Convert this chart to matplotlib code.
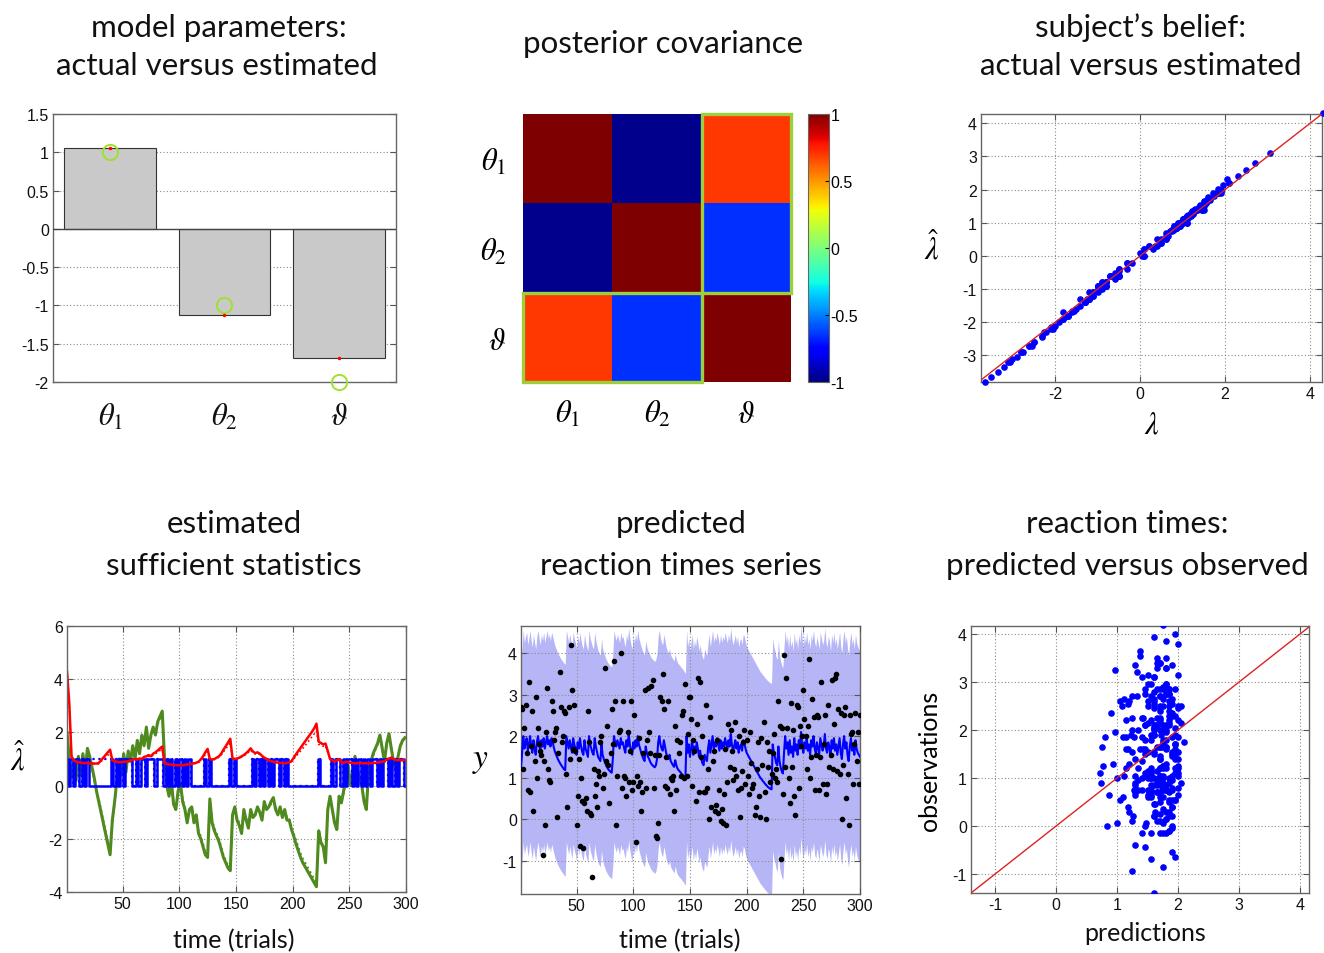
import numpy as np
import matplotlib
matplotlib.use('Agg')
import matplotlib.pyplot as plt
from matplotlib.patches import Rectangle

# figure size in pixels
W, H = 1324, 954

plt.rcParams['axes.unicode_minus'] = False
plt.rcParams['mathtext.fontset'] = 'stix'
plt.rcParams['font.family'] = ['Liberation Sans', 'DejaVu Sans']

# ---------------- data ----------------
# model parameters: actual vs estimated
param_names = [r'$\theta_1$', r'$\theta_2$', r'$\vartheta$']
param_estimated = [1.05, -1.13, -1.69]
param_actual = [1.0, -1.0, -2.0]

# posterior correlation matrix
post_corr = [[1.0, -0.97, 0.70],
             [-0.97, 1.0, -0.65],
             [0.70, -0.65, 1.0]]

# estimated sufficient statistics, every second trial (1, 3, ..., 299)
green_hat = [2.0, 1.0, 0.3, 0.9, 0.2, 1.1, 0.4, 1.2, 0.5, 1.4,
             1.1, 0.7, 0.3, -0.2, -0.6, -1.0, -1.4, -1.8, -2.2, -2.6,
             -1.3, -0.6, 0.2, 1.0, 0.4, 1.2, 0.5, 1.3, 0.9, 1.5,
             1.0, 1.7, 1.2, 1.9, 1.5, 2.2, 1.4, 1.9, 2.2, 1.9,
             2.4, 2.6, 2.8, 1.0, 0.0, -0.4, 0.2, -0.7, -0.9, -0.2,
             0.1, -0.6, -0.9, -1.4, -0.9, -0.8, -1.4, -1.1, -1.8, -2.0,
             -2.3, -2.6, -2.7, -0.5, -1.4, -1.7, -1.9, -2.1, -2.4, -2.7,
             -2.9, -3.1, -3.2, -1.1, -0.8, -1.3, -1.5, -1.8, -0.9, -1.3,
             -1.6, -0.9, -1.2, -1.1, -0.8, -1.0, -1.3, -0.6, -0.9, -0.8,
             -0.6, -0.45, -0.9, -1.1, -0.8, -1.2, -0.9, -1.3, -1.3, -1.65,
             -1.9, -2.2, -2.45, -2.7, -2.9, -3.05, -3.2, -3.35, -3.5, -3.65,
             -3.8, -1.7, -2.15, -2.3, -2.9, -0.9, -0.4, -0.9, -1.4, -1.65,
             -0.4, -0.65, -0.2, 0.3, 0.75, 0.0, 0.5, 1.1, 0.6, 0.3,
             0.0, -0.6, -0.9, 0.5, 0.9, 1.2, 1.4, 1.6, 1.9, 1.4,
             0.9, 1.6, 1.95, 1.4, 0.9, 0.6, 1.1, 1.5, 1.7, 1.8]
green_true = [1.9, 0.9, 0.4, 0.8, 0.3, 1.0, 0.5, 1.1, 0.6, 1.3,
              1.0, 0.6, 0.2, -0.2, -0.5, -0.9, -1.3, -1.7, -2.1, -2.5,
              -1.4, -0.7, 0.1, 0.9, 0.5, 1.1, 0.6, 1.2, 0.9, 1.4,
              1.1, 1.6, 1.2, 1.8, 1.5, 2.1, 1.5, 1.8, 2.1, 1.9,
              2.3, 2.5, 2.7, 1.1, 0.1, -0.3, 0.1, -0.6, -0.8, -0.3,
              0.0, -0.5, -0.8, -1.3, -1.0, -0.8, -1.3, -1.1, -1.7, -1.9,
              -2.2, -2.5, -2.6, -0.6, -1.3, -1.6, -1.8, -2.0, -2.3, -2.6,
              -2.8, -3.0, -3.1, -1.2, -0.9, -1.2, -1.4, -1.7, -1.0, -1.2,
              -1.5, -1.0, -1.1, -1.1, -0.9, -1.0, -1.2, -0.7, -0.9, -0.8,
              -0.7, -0.5, -0.8, -1.0, -0.8, -1.1, -0.9, -1.2, -1.25, -1.55,
              -1.8, -2.05, -2.3, -2.55, -2.75, -2.9, -3.05, -3.2, -3.35, -3.5,
              -3.65, -1.8, -2.1, -2.25, -2.8, -1.0, -0.5, -0.9, -1.3, -1.6,
              -0.5, -0.6, -0.3, 0.2, 0.7, 0.1, 0.5, 1.0, 0.6, 0.35,
              0.05, -0.5, -0.8, 0.4, 0.8, 1.1, 1.35, 1.55, 1.85, 1.45,
              0.95, 1.55, 1.9, 1.45, 0.95, 0.65, 1.05, 1.45, 1.65, 1.75]
red_hat = [4.3, 3.1, 1.1, 0.95, 0.9, 0.88, 0.86, 0.85, 0.85, 0.85,
           0.84, 0.84, 0.83, 0.83, 0.85, 0.95, 1.05, 1.15, 1.25, 1.35,
           0.95, 0.92, 0.9, 0.88, 0.88, 0.9, 0.9, 0.92, 0.95, 0.98,
           1.0, 0.98, 1.02, 1.0, 1.08, 1.1, 1.15, 1.1, 1.2, 1.25,
           1.32, 1.4, 1.47, 0.85, 0.82, 0.8, 0.78, 0.78, 0.77, 0.77,
           0.77, 0.76, 0.78, 0.8, 0.8, 0.82, 0.84, 0.86, 0.9, 0.98,
           1.1, 1.25, 1.38, 1.0, 0.98, 1.0, 1.05, 1.1, 1.2, 1.35,
           1.48, 1.62, 1.76, 1.02, 1.0, 1.02, 1.05, 1.1, 1.15, 1.22,
           1.3, 1.4, 1.28, 1.22, 1.25, 1.2, 1.12, 1.05, 1.0, 0.95,
           0.92, 0.9, 0.88, 0.86, 0.85, 0.85, 0.84, 0.85, 0.87, 0.92,
           1.05, 1.18, 1.3, 1.42, 1.54, 1.66, 1.78, 1.9, 2.02, 2.15,
           2.33, 1.65, 1.6, 1.55, 1.58, 1.3, 1.0, 0.95, 0.9, 0.95,
           1.0, 0.88, 0.86, 0.9, 0.88, 0.86, 0.85, 0.84, 0.84, 0.85,
           0.85, 0.84, 0.85, 0.83, 0.84, 0.86, 0.85, 0.87, 0.88, 0.9,
           0.92, 0.98, 1.02, 1.05, 1.0, 0.97, 0.95, 0.96, 0.95, 0.95]
red_true = [4.3, 3.05, 1.05, 0.92, 0.88, 0.86, 0.85, 0.84, 0.83, 0.83,
            0.82, 0.82, 0.81, 0.8, 0.82, 0.9, 0.98, 1.06, 1.14, 1.22,
            0.93, 0.9, 0.88, 0.87, 0.87, 0.88, 0.89, 0.9, 0.93, 0.96,
            0.98, 0.97, 1.0, 0.99, 1.05, 1.07, 1.1, 1.08, 1.15, 1.2,
            1.25, 1.32, 1.38, 0.83, 0.8, 0.79, 0.77, 0.77, 0.76, 0.76,
            0.76, 0.75, 0.77, 0.78, 0.79, 0.8, 0.82, 0.84, 0.87, 0.94,
            1.04, 1.17, 1.28, 0.98, 0.96, 0.98, 1.02, 1.07, 1.15, 1.27,
            1.38, 1.5, 1.6, 1.0, 0.98, 1.0, 1.03, 1.07, 1.12, 1.18,
            1.25, 1.33, 1.24, 1.19, 1.21, 1.17, 1.1, 1.03, 0.98, 0.94,
            0.9, 0.88, 0.86, 0.85, 0.84, 0.84, 0.83, 0.84, 0.86, 0.9,
            1.0, 1.1, 1.2, 1.3, 1.4, 1.5, 1.61, 1.72, 1.83, 1.94,
            2.05, 1.55, 1.52, 1.48, 1.5, 1.25, 0.98, 0.93, 0.89, 0.93,
            0.97, 0.86, 0.85, 0.88, 0.86, 0.85, 0.84, 0.83, 0.83, 0.84,
            0.84, 0.83, 0.84, 0.82, 0.83, 0.85, 0.84, 0.86, 0.87, 0.89,
            0.9, 0.96, 1.0, 1.03, 0.98, 0.96, 0.94, 0.95, 0.94, 0.94]
# binary statistic (one digit per two trials)
blue_hat = [int(c) for c in
            "1010110101" "0000000000" "1010101110" "0101101110" "1110101010"
            "1010100000" "0101000000" "0010100000" "0010101010" "1011010100"
            "0000000000" "0100000101" "1010110101" "0101011010" "1101010110"]
blue_true = [int(c) for c in
             "1010110101" "1111111111" "1010101110" "0101101110" "1110101010"
             "1010100000" "0101000000" "0010100000" "0010101010" "1011010100"
             "0000000000" "0100000101" "1010110101" "0101011010" "1101010110"]

# reaction times: predicted (per trial) and observed
rt_pred = [1.25, 1.6, 2.0, 1.7, 1.85, 1.95, 1.65, 1.8, 2.0, 1.75, 1.6, 1.9, 1.7, 1.55, 1.85, 2.0, 1.8, 1.65, 1.9, 1.75,
           1.95, 1.7, 1.85, 2.0, 1.8, 1.9, 1.75, 1.95, 1.85, 1.72, 1.62, 1.55, 1.48, 1.42, 1.37, 1.32, 1.28, 1.24, 1.2, 1.18,
           2.0, 1.85, 1.7, 1.9, 1.75, 1.6, 1.95, 1.8, 1.7, 1.55, 1.85, 1.7, 1.95, 1.75, 1.62, 1.55, 1.9, 1.7, 1.6, 1.5,
           2.0, 1.8, 1.7, 1.6, 1.55, 1.95, 1.75, 1.62, 1.5, 1.45, 1.4, 1.8, 1.55, 1.45, 1.38, 1.3, 1.25, 1.2, 1.17, 1.14,
           1.12, 1.45, 2.0, 1.85, 1.75, 1.9, 1.8, 1.7, 1.95, 1.8, 1.85, 1.7, 1.6, 1.9, 1.75, 2.05, 1.8, 1.65, 1.55, 1.85,
           1.7, 1.9, 1.75, 2.0, 1.8, 1.7, 1.6, 1.52, 1.45, 1.4, 1.75, 1.6, 1.5, 1.45, 1.38, 1.33, 1.3, 1.27, 1.25, 1.3,
           1.45, 1.85, 2.0, 1.8, 1.7, 1.65, 1.9, 1.75, 1.6, 1.5, 1.45, 1.55, 1.4, 1.35, 1.3, 1.26, 1.42, 1.3, 1.22, 1.18,
           1.15, 1.12, 1.08, 1.05, 1.0, 0.96, 2.0, 1.6, 1.8, 1.5, 1.7, 1.9, 1.55, 1.75, 1.6, 1.85, 1.7, 1.5, 1.65, 1.45,
           1.35, 1.3, 1.55, 1.45, 1.4, 1.7, 1.9, 1.6, 1.8, 2.0, 1.7, 1.85, 1.75, 1.95, 1.8, 1.65, 1.9, 1.7, 1.85, 1.75,
           1.95, 1.8, 1.7, 1.9, 1.75, 2.05, 1.8, 1.65, 1.75, 1.9, 1.7, 1.85, 1.6, 1.75, 1.8, 1.65, 1.9, 1.85, 1.7, 1.6,
           1.55, 1.5, 1.45, 1.4, 1.35, 1.3, 1.25, 1.2, 1.15, 1.1, 1.05, 1.0, 0.97, 0.93, 0.9, 0.86, 0.83, 0.8, 0.77, 0.75,
           0.73, 0.72, 1.8, 1.6, 1.5, 1.35, 1.3, 1.75, 1.4, 1.25, 1.15, 1.1, 1.6, 2.0, 1.7, 1.85, 1.55, 1.9, 1.6, 1.75,
           1.5, 1.95, 1.65, 1.8, 1.55, 1.9, 1.7, 2.1, 1.75, 1.6, 1.85, 1.7, 1.95, 1.65, 1.8, 1.55, 1.9, 1.75, 2.0, 1.7,
           1.6, 1.85, 1.7, 1.55, 1.95, 1.8, 1.65, 1.75, 2.05, 1.7, 1.6, 1.85, 1.75, 1.5, 1.9, 1.7, 1.95, 1.65, 1.8, 1.55,
           1.75, 1.95, 1.6, 1.45, 1.8, 2.0, 1.7, 1.85, 1.55, 1.4, 1.75, 1.95, 1.65, 1.8, 1.55, 1.9, 1.7, 1.6, 1.55, 1.5]
rt_obs = [2.7, 2.65, 1.2, 2.2, 2.75, 1.6, 0.7, 3.3, 0.65, 1.75, 2.6, 0.2, 1.4, 2.95, 1.0, 2.2, 1.8, 1.65, 1.55, -0.85,
          1.4, -0.15, 2.1, 3.15, 1.2, 0.95, 0.9, 2.85, 2.6, 1.9, 2.1, 2.2, 0.05, 1.6, 3.55, 2.7, 1.85, 2.0, 2.6, 2.55,
          1.1, 0.3, 2.7, 1.45, 4.2, 3.1, 1.7, 2.75, 1.65, -0.15, 0.55, 1.45, -0.65, 1.0, 0.45, -0.7, 0.4, 0.5, 0.2, 2.6,
          1.85, 0.15, 0.1, -1.4, 1.2, 0.55, 0.85, 0.3, 1.15, 1.05, 1.85, 2.0, 0.75, 1.1, 3.65, 1.4, 2.25, 1.3, 0.4, 1.6,
          2.65, 1.8, 3.8, 2.85, -0.15, 1.05, 2.1, 2.15, 4.0, 0.75, 2.85, 1.05, 1.0, 0.55, 2.1, 0.9, 1.65, 2.85, 0.7, 0.9,
          2.5, -0.55, 1.05, 0.8, 1.95, 0.9, 0.2, 0.65, 1.6, 3.1, 0.75, 1.9, 3.15, 2.1, 1.6, 3.2, 3.35, 0.75, 1.55, -0.4,
          -0.45, -0.1, 1.55, 2.95, 2.85, 3.5, 2.65, 0.8, 1.5, 0.75, 2.85, 0.6, 1.0, 0.95, 1.05, 0.2, 2.25, 0.7, 1.9, 1.6,
          1.85, 1.05, 2.5, 2.6, 1.0, 3.25, 1.05, 2.05, 2.95, 2.95, 2.4, 0.8, 1.9, 1.65, 0.45, 2.3, 3.4, 0.65, 3.3, 1.5,
          2.0, 0.65, 0.65, 2.75, 0.75, 1.2, 0.0, 2.45, 0.3, 1.4, 1.65, 0.2, 0.35, 1.9, 0.15, 0.7, -0.05, 0.25, -0.1, 0.6,
          1.7, -0.15, 0.9, 2.3, 1.25, 2.15, 1.65, 0.95, 1.2, 2.35, 1.05, 0.7, 2.0, 0.05, 0.75, 1.15, 1.85, 2.15, 0.85, 1.9,
          1.05, 0.6, 2.1, 1.35, 0.75, 0.85, 0.1, 0.3, 1.2, 1.85, 0.55, 0.05, 1.95, 1.3, 2.35, 0.65, 0.0, 1.85, 1.25, 1.65,
          0.9, 1.1, 1.6, 2.05, 1.0, 1.2, 0.9, 2.85, 2.25, -0.95, 2.2, 0.6, 3.95, 1.25, 3.4, 2.2, 1.0, 0.4, 2.8, 1.25,
          2.15, 0.55, 0.1, 2.75, 2.7, 0.75, 2.25, 1.75, 2.0, 3.1, 2.4, 2.0, 1.2, 2.25, 3.85, 1.0, 1.5, 2.9, 2.45, 0.7,
          1.55, 2.5, 2.45, 0.7, 1.5, 3.3, 0.85, 1.8, 2.5, 0.6, 0.85, 2.75, 1.25, 1.55, 3.35, 1.2, 2.3, 3.4, 3.5, 1.15,
          2.65, 1.1, 2.55, 0.0, 1.3, 2.5, 2.7, 0.5, 1.1, -0.15, 2.5, 2.05, 2.1, 0.85, 1.8, 2.55, 1.4, 2.1, 0.85, 2.5]
rt_band = 2.55  # half-width of the predictive band

# ---------------- drawing ----------------
fig = plt.figure(figsize=(W / 100, H / 100), dpi=100)

TITLE_FONT = 'Lato'
TICK_SIZE = 11.5
MATH_SIZE = 22
GRID_KW = dict(linestyle=(0, (1, 2)), color='#8a8a8a', linewidth=0.8)


def ax_px(l, t, r, b):
    return fig.add_axes([l / W, 1 - b / H, (r - l) / W, (b - t) / H])


def matlab_look(ax, grid='both'):
    ax.tick_params(direction='in', top=True, right=True, length=4, width=0.8,
                   color='#555555', labelsize=TICK_SIZE, labelcolor='#111111', pad=3)
    for sp in ax.spines.values():
        sp.set_color('#666666')
        sp.set_linewidth(1.0)
    if grid:
        ax.grid(True, axis=grid, **GRID_KW)
    ax.set_axisbelow(True)


def ftext(x, y, s, **kw):
    fig.text(x / W, 1 - y / H, s, **kw)


# titles
title_lines = [(219, 37, 'model parameters:'), (217, 75, 'actual versus estimated'),
               (663, 53, 'posterior covariance'),
               (1141, 37, 'subject\u2019s belief:'), (1141, 75, 'actual versus estimated'),
               (234, 533, 'estimated'), (234, 575, 'sufficient statistics'),
               (681, 533, 'predicted'), (681, 575, 'reaction times series'),
               (1127, 533, 'reaction times:'), (1127, 575, 'predicted versus observed')]
for x, y, s in title_lines:
    ftext(x, y, s, ha='center', va='baseline', fontsize=22.5, family=TITLE_FONT, color='#111111')

# 1) bar chart of parameters
ax1 = ax_px(53, 115, 396, 383)
pos = np.arange(1, len(param_names) + 1)
ax1.bar(pos, param_estimated, width=0.8, color='#c9c9c9', edgecolor='#333333', linewidth=0.8, zorder=2)
ax1.axhline(0, color='#444444', lw=1.0, zorder=3)
ax1.plot(pos, param_actual, 'o', mfc='none', mec='#a2e02c', ms=11, mew=1.4, clip_on=False, zorder=4)
ax1.plot(pos, param_estimated, '.', color='red', ms=3, zorder=5)
ax1.set_xlim(0.5, 3.5)
ax1.set_ylim(-2, 1.5)
ax1.set_yticks([-2, -1.5, -1, -0.5, 0, 0.5, 1, 1.5])
ax1.set_yticklabels(['-2', '-1.5', '-1', '-0.5', '0', '0.5', '1', '1.5'])
matlab_look(ax1, grid='y')
ax1.set_xticks(pos)
ax1.set_xticklabels(param_names, fontsize=MATH_SIZE)
ax1.tick_params(axis='x', length=0, pad=14, labelsize=MATH_SIZE)

# 2) posterior correlation heatmap
ax2 = ax_px(523, 115, 791, 383)
im = ax2.imshow(post_corr, cmap='jet', vmin=-1, vmax=1, aspect='auto', interpolation='nearest')
for sp in ax2.spines.values():
    sp.set_visible(False)
ax2.set_xticks(range(3))
ax2.set_yticks(range(3))
ax2.set_xticklabels(param_names)
ax2.set_yticklabels(param_names)
ax2.tick_params(length=0, labelsize=MATH_SIZE, pad=12)
box_kw = dict(fill=False, edgecolor='#9ccf3a', linewidth=2.4, clip_on=False, zorder=5)
ax2.add_patch(Rectangle((1.5, -0.5), 1.0, 2.0, **box_kw))
ax2.add_patch(Rectangle((-0.5, 1.5), 2.0, 1.0, **box_kw))
cax = ax_px(808, 115, 829, 383)
cb = fig.colorbar(im, cax=cax, ticks=[-1, -0.5, 0, 0.5, 1])
cb.ax.set_yticklabels(['-1', '-0.5', '0', '0.5', '1'])
cb.ax.tick_params(direction='in', length=3, width=0.8, labelsize=TICK_SIZE, pad=1)
cb.outline.set_edgecolor('#666666')

# 3) actual vs estimated beliefs
ax3 = ax_px(981, 115, 1322, 383)
lam_true = green_true + red_true
lam_hat = green_hat + red_hat
ax3.plot(lam_true, lam_hat, '.', color='blue', ms=7.5, zorder=3, clip_on=False)
ax3.axline((0, 0), slope=1, color='#dd2222', lw=1.0, zorder=4)
ax3.set_xlim(-3.74, 4.28)
ax3.set_ylim(-3.8, 4.28)
ax3.set_xticks([-2, 0, 2, 4])
ax3.set_yticks([-3, -2, -1, 0, 1, 2, 3, 4])
matlab_look(ax3)
ax3.set_xlabel(r'$\lambda$', fontsize=MATH_SIZE, labelpad=6)
ax3.set_ylabel(r'$\hat{\lambda}$', fontsize=MATH_SIZE, rotation=0, labelpad=22, va='center')

# 4) sufficient statistics over trials
ax4 = ax_px(67, 627, 406, 893)
t4 = np.arange(1, 300, 2)
ax4.plot(t4, green_true, color='#4f8a1f', lw=1.4, ls=':')
ax4.plot(t4, green_hat, color='#4f8a1f', lw=2.2)
ax4.plot(t4, blue_true, color='blue', lw=1.6, ls=':', drawstyle='steps-mid')
ax4.plot(t4, blue_hat, color='blue', lw=1.8, drawstyle='steps-mid')
ax4.plot(t4, red_true, color='red', lw=1.2, ls=':')
ax4.plot(t4, red_hat, color='red', lw=1.8)
ax4.set_xlim(1, 300)
ax4.set_ylim(-4, 6)
ax4.set_xticks([50, 100, 150, 200, 250, 300])
ax4.set_yticks([-4, -2, 0, 2, 4, 6])
matlab_look(ax4)
ax4.set_ylabel(r'$\hat{\lambda}$', fontsize=MATH_SIZE, rotation=0, labelpad=22, va='center')

# 5) predicted reaction time series
ax5 = ax_px(521, 627, 860, 895)
t5 = np.arange(1, len(rt_pred) + 1)
pred = np.array(rt_pred)
ax5.fill_between(t5, pred - rt_band, pred + rt_band, color='#b6b6f6', lw=0, zorder=1)
ax5.plot(t5, pred, color='blue', lw=1.5, zorder=3)
ax5.plot(t5, rt_obs, '.', color='black', ms=6, zorder=4)
ax5.set_xlim(1, 300)
ax5.set_ylim(-1.8, 4.65)
ax5.set_xticks([50, 100, 150, 200, 250, 300])
ax5.set_yticks([-1, 0, 1, 2, 3, 4])
matlab_look(ax5)
ax5.grid(True, zorder=2, **GRID_KW)
ax5.set_axisbelow(False)
ax5.set_ylabel(r'$y$', fontsize=MATH_SIZE + 2, rotation=0, labelpad=16, va='center')

# 6) predicted vs observed reaction times
ax6 = ax_px(971, 627, 1309, 894)
ax6.plot(rt_pred, rt_obs, '.', color='blue', ms=7.5, zorder=3)
ax6.axline((0, 0), slope=1, color='#dd2222', lw=1.0, zorder=4)
ax6.set_xlim(-1.4, 4.15)
ax6.set_ylim(-1.4, 4.17)
ax6.set_xticks([-1, 0, 1, 2, 3, 4])
ax6.set_yticks([-1, 0, 1, 2, 3, 4])
matlab_look(ax6)
ax6.set_ylabel('observations', fontsize=18, family=TITLE_FONT, labelpad=8)

# x labels of the bottom row
for x, y, s in [(234, 948, 'time (trials)'), (680, 948, 'time (trials)'), (1145, 941, 'predictions')]:
    ftext(x, y, s, ha='center', va='baseline', fontsize=18, family=TITLE_FONT, color='#111111')

fig.savefig('out.png', dpi=100)
